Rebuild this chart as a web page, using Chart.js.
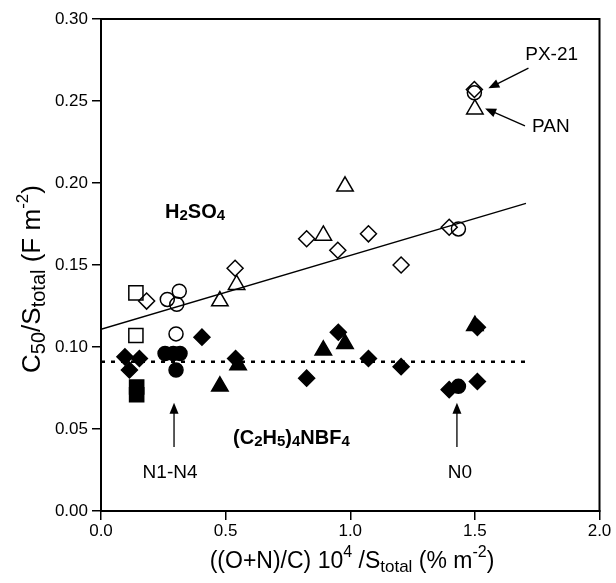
<!DOCTYPE html>
<html><head><meta charset="utf-8">
<script src="https://cdn.jsdelivr.net/npm/chart.js@4"></script>
<style>html,body{margin:0;padding:0;background:#fff;}#wrap{width:616px;height:583px;}</style>
</head><body><div id="wrap"><canvas id="c" width="616" height="583"></canvas></div>
<script>
// ---- data ----
const xTickValues = [0.0, 0.5, 1.0, 1.5, 2.0];
const yTickValues = [0.00, 0.05, 0.10, 0.15, 0.20, 0.25, 0.30];
// H2SO4 electrolyte (open symbols)
const openDiamonds  = [[0.183,0.128],[0.538,0.148],[0.825,0.166],[0.950,0.159],[1.073,0.169],[1.204,0.150],[1.397,0.173],[1.498,0.257]];
const openCircles   = [[0.266,0.129],[0.314,0.134],[0.304,0.126],[0.301,0.108],[1.434,0.172],[1.498,0.255]];
const openTriangles = [[0.477,0.128],[0.544,0.138],[0.892,0.168],[0.979,0.198],[1.500,0.245]];
const openSquares   = [[0.140,0.133],[0.140,0.107]];
// (C2H5)4NBF4 electrolyte (filled symbols)
const filledDiamonds  = [[0.096,0.094],[0.154,0.093],[0.114,0.086],[0.405,0.106],[0.540,0.093],[0.825,0.081],[0.952,0.109],[1.073,0.093],[1.204,0.088],[1.397,0.074],[1.510,0.079],[1.510,0.112]];
const filledCircles   = [[0.257,0.096],[0.290,0.096],[0.317,0.096],[0.301,0.086],[1.434,0.076]];
const filledTriangles = [[0.477,0.076],[0.550,0.089],[0.892,0.098],[0.979,0.102],[1.500,0.113]];
const filledSquares   = [[0.143,0.0756],[0.143,0.0709]];
// trend lines
const fitLine = [[0.0,0.1108],[1.705,0.1876]];
const refLine = [[0.0,0.091],[1.705,0.091]];
// annotation arrows [x0,y0,x1(tip),y1(tip)] and labels
const arrows = [[0.293,0.039,0.293,0.066],[1.428,0.039,1.428,0.066],[1.715,0.270,1.554,0.2577],[1.701,0.2348,1.541,0.2455]];
const labelTexts = ['H2SO4','(C2H5)4NBF4','N1-N4','N0','PX-21','PAN'];

// ---- presentation ----
const FONT = '"Liberation Sans", Arial, sans-serif';
const toPts = a => a.map(p => ({x:p[0], y:p[1]}));
function sym(data, style, filled, r){
  return {type:'scatter', data:toPts(data), pointStyle:style, pointRadius:r, pointHoverRadius:r,
    pointBorderColor:'#000', pointBackgroundColor: filled ? '#000' : 'rgba(0,0,0,0)', pointBorderWidth:1.5, showLine:false, clip:false};
}
function lineDs(data, dash, w){
  return {type:'scatter', data:toPts(data), showLine:true, borderColor:'#000', borderWidth:w, borderDash:dash, pointRadius:0, fill:false};
}
function rich(ctx, segs, x, y, align, rot){
  let total = 0;
  segs.forEach(s => { ctx.font = (s.b?'bold ':'') + s.s + 'px ' + FONT; s.w = ctx.measureText(s.t).width; total += s.w; });
  ctx.save(); ctx.translate(x, y); if (rot) ctx.rotate(-Math.PI/2);
  let cx = align === 'center' ? -total/2 : (align === 'right' ? -total : 0);
  ctx.textBaseline = 'middle'; ctx.textAlign = 'left'; ctx.fillStyle = '#000';
  segs.forEach(s => { ctx.font = (s.b?'bold ':'') + s.s + 'px ' + FONT; ctx.fillText(s.t, cx, s.dy || 0); cx += s.w; });
  ctx.restore();
}
function arrow(ctx, x0, y0, x1, y1){
  const a = Math.atan2(y1 - y0, x1 - x0), L = 11, W = 4.5;
  ctx.save(); ctx.strokeStyle = '#000'; ctx.fillStyle = '#000'; ctx.lineWidth = 1.3;
  ctx.beginPath(); ctx.moveTo(x0, y0); ctx.lineTo(x1 - Math.cos(a)*L*0.8, y1 - Math.sin(a)*L*0.8); ctx.stroke();
  ctx.beginPath(); ctx.moveTo(x1, y1);
  ctx.lineTo(x1 - Math.cos(a)*L - Math.sin(a)*W, y1 - Math.sin(a)*L + Math.cos(a)*W);
  ctx.lineTo(x1 - Math.cos(a)*L + Math.sin(a)*W, y1 - Math.sin(a)*L - Math.cos(a)*W);
  ctx.closePath(); ctx.fill(); ctx.restore();
}
const annot = {
  id:'annot',
  afterDatasetsDraw(chart){
    const {ctx, scales:{x, y}} = chart;
    arrows.forEach(a => arrow(ctx, x.getPixelForValue(a[0]), y.getPixelForValue(a[1]), x.getPixelForValue(a[2]), y.getPixelForValue(a[3])));
    const P = (vx, vy) => [x.getPixelForValue(vx), y.getPixelForValue(vy)];
    let p;
    p = P(0.257, 0.1823);
    rich(ctx, [{t:'H',s:20,b:1},{t:'2',s:15,b:1,dy:4},{t:'SO',s:20,b:1},{t:'4',s:15,b:1,dy:4}], p[0], p[1], 'left');
    p = P(0.530, 0.0445);
    rich(ctx, [{t:'(C',s:20,b:1},{t:'2',s:15,b:1,dy:4},{t:'H',s:20,b:1},{t:'5',s:15,b:1,dy:4},{t:')',s:20,b:1},{t:'4',s:15,b:1,dy:4},{t:'NBF',s:20,b:1},{t:'4',s:15,b:1,dy:4}], p[0], p[1], 'left');
    p = P(0.277, 0.0232); rich(ctx, [{t:labelTexts[2],s:19}], p[0], p[1], 'center');
    p = P(1.440, 0.0232); rich(ctx, [{t:labelTexts[3],s:19}], p[0], p[1], 'center');
    p = P(1.808, 0.278); rich(ctx, [{t:labelTexts[4],s:19}], p[0], p[1], 'center');
    p = P(1.805, 0.234); rich(ctx, [{t:labelTexts[5],s:19}], p[0], p[1], 'center');
  },
  afterDraw(chart){
    const {ctx, chartArea:c} = chart;
    ctx.save(); ctx.strokeStyle = '#000'; ctx.lineWidth = 2;
    ctx.strokeRect(c.left, c.top, c.right - c.left, c.bottom - c.top); ctx.restore();
    // axis titles
    rich(ctx, [{t:'C',s:26},{t:'50',s:20,dy:6},{t:'/S',s:26},{t:'total',s:20,dy:6},{t:' (F m',s:26},{t:'-2',s:17,dy:-10},{t:')',s:26}], 33, 279, 'center', true);
    rich(ctx, [{t:'((O+N)/C) 10',s:23},{t:'4',s:16,dy:-9},{t:' /S',s:23},{t:'total',s:17,dy:5},{t:' (% m',s:23},{t:'-2',s:16,dy:-9},{t:')',s:23}], 352, 562, 'center');
  }
};

new Chart(document.getElementById('c'), {
  type:'scatter',
  data:{datasets:[
    lineDs(fitLine, [], 1.3),
    lineDs(refLine, [4,6], 2.5),
    sym(openDiamonds, 'rectRot', false, 8),
    sym(openCircles, 'circle', false, 7),
    sym(openTriangles, 'triangle', false, 9.5),
    sym(openSquares, 'rect', false, 10),
    sym(filledDiamonds, 'rectRot', true, 8),
    sym(filledCircles, 'circle', true, 7),
    sym(filledTriangles, 'triangle', true, 9.5),
    sym(filledSquares, 'rect', true, 10)
  ]},
  options:{
    responsive:false, devicePixelRatio:1, animation:false,
    layout:{padding:{left:0, right:16.5, top:19, bottom:0}},
    plugins:{legend:{display:false}, tooltip:{enabled:false}},
    scales:{
      x:{type:'linear', min:0, max:2,
        afterBuildTicks: s => { s.ticks = xTickValues.map(v => ({value:v})); },
        afterFit: s => { s.height = 72; },
        ticks:{callback: v => Number(v).toFixed(1), color:'#000', font:{size:17, family:FONT}, padding:1, maxRotation:0},
        grid:{drawOnChartArea:false, tickLength:9, color:'#000', lineWidth:1.5},
        border:{display:true, color:'#000', width:2}},
      y:{type:'linear', min:0, max:0.3,
        afterBuildTicks: s => { s.ticks = yTickValues.map(v => ({value:v})); },
        afterFit: s => { s.width = 101; },
        ticks:{callback: v => Number(v).toFixed(2), color:'#000', font:{size:17, family:FONT}, padding:4},
        grid:{drawOnChartArea:false, tickLength:9, color:'#000', lineWidth:1.5},
        border:{display:true, color:'#000', width:2}}
    }
  },
  plugins:[annot]
});
</script></body></html>
